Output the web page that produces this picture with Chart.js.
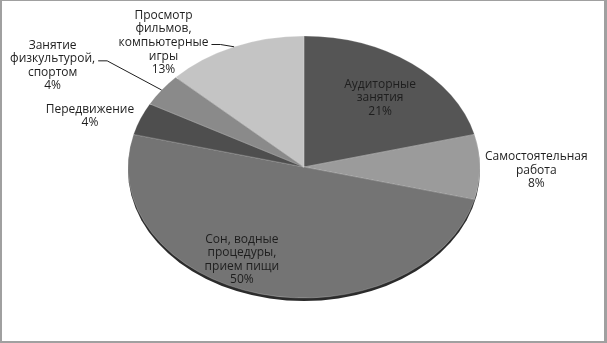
<!DOCTYPE html>
<html>
<head>
<meta charset="utf-8">
<script src="https://cdn.jsdelivr.net/npm/chart.js@4"></script>
<style>
	html, body { margin: 0; padding: 0; background: #fff; }
	#wrap { position: relative; width: 607px; height: 343px; }
	#frame {
		position: absolute; left: 0; top: 0; width: 607px; height: 343px; box-sizing: border-box;
		border-style: solid; border-color: #a0a0a0; border-width: 1px 3px 2px 2px; pointer-events: none;
	}
</style>
</head>
<body>
<div id="wrap">
	<canvas id="chart-time" width="607" height="343"></canvas>
	<div id="frame"></div>
</div>
<script>
// Data
const CATEGORIES = [
	["Аудиторные", "занятия"],
	["Самостоятельная", "работа"],
	["Сон, водные", "процедуры,", "прием пищи"],
	["Передвижение"],
	["Занятие", "физкультурой,", "спортом"],
	["Просмотр", "фильмов,", "компьютерные", "игры"],
];
const SHARES = [21, 8, 50, 4, 4, 13];
const SLICE_COLORS = ["#555555", "#9b9b9b", "#747474", "#4e4e4e", "#8a8a8a", "#c4c4c4"];

// Label placement: angle (deg, clockwise from top), radius factor, leader line
const LABEL_PLACE = [
	{ deg: 38.8, f: 0.69 },
	{ deg: 90.6, f: 1.32 },
	{ deg: 206.9, f: 0.78 },
	{ deg: 288.2, f: 1.28 },
	{ deg: 298.8, f: 1.63, leader: true },
	{ deg: 320.3, f: 1.25, leader: true },
];

const RX = 176; // horizontal radius
const RY = 131; // vertical radius of the tilted disc
const FONT = "12px 'Open Sans'";
const LINE_H = 13.6;
const TEXT_SHIFT = 1.5;

const CHART_WRAPPER = document.getElementById("chart-time");

// squash the pie into an ellipse and add the dark rim of the disc
const tiltPlugin = {
	id: "tilt",
	beforeDatasetsDraw(chart) {
		const arc = chart.getDatasetMeta(0).data[0];
		const ctx = chart.ctx;
		ctx.save();
		ctx.fillStyle = "#2b2b2b";
		ctx.beginPath();
		ctx.ellipse(arc.x, arc.y + 3, RX, RY, 0, 0, Math.PI * 2);
		ctx.fill();
		ctx.translate(arc.x, arc.y);
		ctx.scale(1, RY / RX);
		ctx.translate(-arc.x, -arc.y);
	},
	afterDatasetsDraw(chart) {
		chart.ctx.restore();
	},
};

// data labels with leader lines
const labelPlugin = {
	id: "sliceLabels",
	afterDraw(chart) {
		const ctx = chart.ctx;
		const meta = chart.getDatasetMeta(0);
		const total = SHARES.reduce((a, b) => a + b, 0);
		ctx.save();
		ctx.font = FONT;
		ctx.fillStyle = "#1e1e1e";
		ctx.strokeStyle = "#1e1e1e";
		ctx.lineWidth = 1;
		ctx.textAlign = "center";
		ctx.textBaseline = "middle";
		meta.data.forEach((arc, i) => {
			const place = LABEL_PLACE[i];
			const a = (place.deg * Math.PI) / 180;
			const x = arc.x + RX * place.f * Math.sin(a);
			const y = arc.y - RY * place.f * Math.cos(a) + TEXT_SHIFT;
			const lines = CATEGORIES[i].concat([Math.round((SHARES[i] / total) * 100) + "%"]);
			const top = y - ((lines.length - 1) * LINE_H) / 2;
			let widest = 0;
			let widestW = 0;
			lines.forEach((t, k) => {
				ctx.fillText(t, x, top + k * LINE_H);
				const w = ctx.measureText(t).width;
				if (w > widestW) {
					widestW = w;
					widest = k;
				}
			});
			if (place.leader) {
				const mid = (arc.startAngle + arc.endAngle) / 2;
				const ex = arc.x + RX * Math.cos(mid);
				const ey = arc.y + RY * Math.sin(mid);
				const sx = x + widestW / 2 + 3;
				const sy = top + widest * LINE_H + 2;
				ctx.beginPath();
				ctx.moveTo(sx, sy);
				ctx.lineTo(sx + 9, sy);
				ctx.lineTo(ex, ey);
				ctx.stroke();
			}
		});
		ctx.restore();
	},
};

const CHART_DATA = {
	labels: CATEGORIES,
	datasets: [
		{
			data: SHARES,
			backgroundColor: SLICE_COLORS,
			borderColor: "rgba(255, 255, 255, 0.25)",
			borderWidth: 1,
			radius: RX,
			clip: false,
		},
	],
};

const CHART_CONFIG = {
	type: "pie",
	data: CHART_DATA,
	options: {
		responsive: false,
		animation: false,
		layout: {
			padding: { left: 1, right: 0, top: 0, bottom: 9 },
		},
		plugins: {
			legend: { display: false },
			tooltip: { enabled: false },
		},
	},
	plugins: [tiltPlugin, labelPlugin],
};

if (CHART_WRAPPER) {
	new Chart(CHART_WRAPPER, CHART_CONFIG);
}
</script>
</body>
</html>
